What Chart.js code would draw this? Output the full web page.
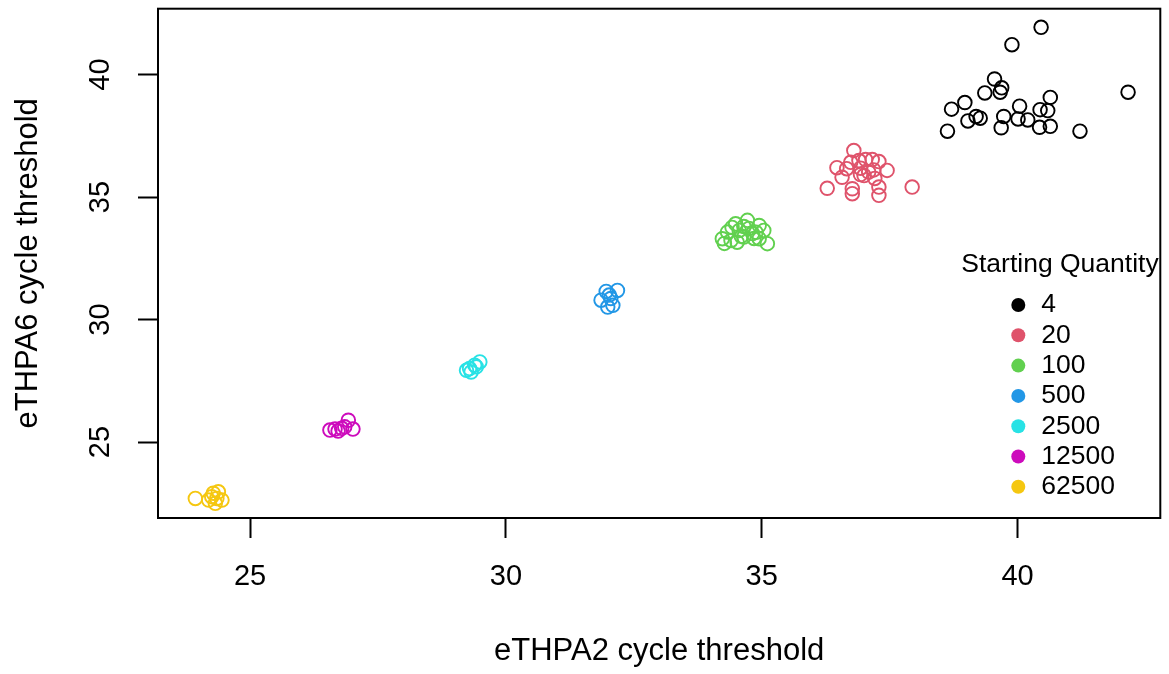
<!DOCTYPE html>
<html>
<head>
<meta charset="utf-8">
<script src="https://cdn.jsdelivr.net/npm/chart.js@4"></script>
<style>
  html, body { margin: 0; padding: 0; background: #ffffff; }
  #wrap { width: 1169px; height: 674px; }
</style>
</head>
<body>
<div id="wrap"><canvas id="chart" width="1169" height="674"></canvas></div>
<script>
// Starting quantity groups and their colours
const startingQuantities = ['4', '20', '100', '500', '2500', '12500', '62500'];
const groupColors = ['#000000', '#DF536B', '#61D04F', '#2297E6', '#28E2E5', '#CD0BBC', '#F5C710'];

// [eTHPA2 Ct, eTHPA6 Ct] pairs per starting quantity
const sq4 = [
  [40.46, 41.93], [39.89, 41.22], [42.16, 39.28], [39.55, 39.82], [39.69, 39.46],
  [39.66, 39.28], [39.36, 39.25], [40.64, 39.07], [38.97, 38.86], [38.71, 38.59],
  [40.04, 38.71], [40.44, 38.57], [40.59, 38.53], [39.19, 38.29], [39.27, 38.22],
  [39.03, 38.11], [39.73, 38.29], [40.01, 38.19], [40.20, 38.15], [39.68, 37.83],
  [40.43, 37.85], [40.64, 37.89], [38.63, 37.69], [41.22, 37.69]
];
const sq20 = [
  [36.80, 36.90], [36.47, 36.20], [36.28, 35.36], [37.94, 35.41], [36.74, 36.42],
  [37.03, 36.53], [37.16, 36.53], [37.29, 36.45], [37.45, 36.09], [36.57, 35.81],
  [36.77, 35.34], [36.77, 35.14], [37.29, 35.41], [37.29, 35.07], [37.00, 35.88],
  [36.93, 36.18], [37.09, 36.02], [36.66, 36.16], [36.90, 36.49], [37.19, 36.11],
  [37.21, 35.76], [36.93, 35.92]
];
const sq100 = [
  [34.23, 33.30], [34.72, 34.05], [35.11, 33.10], [34.95, 33.84], [34.49, 33.91],
  [34.33, 33.57], [34.65, 33.37], [34.82, 33.51], [34.52, 33.16], [34.95, 33.30],
  [34.40, 33.23], [34.56, 33.64], [34.75, 33.72], [34.89, 33.56], [34.42, 33.76],
  [34.65, 33.80], [35.04, 33.64], [34.60, 33.40], [34.27, 33.11], [34.85, 33.31]
];
const sq500 = [
  [31.96, 31.15], [32.18, 31.19], [31.86, 30.79], [32.05, 30.86], [32.09, 30.58],
  [31.99, 30.51], [32.02, 31.00]
];
const sq2500 = [
  [29.23, 27.93], [29.29, 28.00], [29.39, 28.14], [29.49, 28.27], [29.42, 28.07],
  [29.32, 27.86]
];
const sq12500 = [
  [26.56, 25.49], [26.66, 25.53], [26.79, 25.56], [26.92, 25.89], [27.01, 25.53],
  [26.85, 25.62], [26.72, 25.45]
];
const sq62500 = [
  [23.93, 22.70], [24.19, 22.63], [24.28, 22.91], [24.35, 22.70], [24.45, 22.63],
  [24.32, 22.50], [24.25, 22.77], [24.38, 22.97]
];
const groupValues = [sq4, sq20, sq100, sq500, sq2500, sq12500, sq62500];

// Axis ticks
const xTickValues = [25, 30, 35, 40];
const yTickValues = [25, 30, 35, 40];

const FONT = '"Liberation Sans", Arial, Helvetica, sans-serif';

const datasets = startingQuantities.map((label, i) => ({
  label: label,
  data: groupValues[i].map(p => ({ x: p[0], y: p[1] })),
  borderColor: groupColors[i],
  backgroundColor: 'rgba(0,0,0,0)',
  pointStyle: 'circle',
  pointRadius: 6.8,
  pointHoverRadius: 6.8,
  pointBorderWidth: 1.9,
  showLine: false
}));

// Closed frame around the plotting region
const frame = {
  id: 'frame',
  afterDatasetsDraw(chart) {
    const { ctx, chartArea: a } = chart;
    ctx.save();
    ctx.strokeStyle = '#000';
    ctx.lineWidth = 2;
    ctx.strokeRect(a.left, a.top, a.right - a.left, a.bottom - a.top);
    ctx.restore();
  }
};

// Key inside the lower right of the plot
const quantityKey = {
  id: 'quantityKey',
  afterDraw(chart) {
    const { ctx, chartArea: a } = chart;
    ctx.save();
    ctx.fillStyle = '#000';
    ctx.font = '26.5px ' + FONT;
    ctx.textAlign = 'left';
    ctx.textBaseline = 'middle';
    ctx.fillText('Starting Quantity', a.right - 199, a.bottom - 253);
    chart.data.datasets.forEach((ds, i) => {
      const y = a.bottom - 213 + i * 30.3;
      ctx.beginPath();
      ctx.arc(a.right - 142, y, 7, 0, Math.PI * 2);
      ctx.fillStyle = ds.borderColor;
      ctx.fill();
      ctx.fillStyle = '#000';
      ctx.fillText(ds.label, a.right - 119, y);
    });
    ctx.restore();
  }
};

new Chart(document.getElementById('chart'), {
  type: 'scatter',
  data: { datasets },
  options: {
    responsive: false,
    animation: false,
    devicePixelRatio: 1,
    events: [],
    layout: { padding: { top: 8, right: 7, left: 0, bottom: 0 } },
    plugins: { legend: { display: false }, tooltip: { enabled: false } },
    scales: {
      x: {
        type: 'linear',
        position: 'bottom',
        min: 23.2,
        max: 42.79,
        afterBuildTicks: s => { s.ticks = xTickValues.map(v => ({ value: v })); },
        afterFit: s => { s.height = 156; s.paddingLeft = 0; s.paddingRight = 0; },
        border: { display: false },
        grid: { drawOnChartArea: false, drawTicks: true, tickLength: 20, tickWidth: 2, tickColor: '#000' },
        ticks: { color: '#000', padding: 22, font: { size: 29, family: FONT }, maxRotation: 0, minRotation: 0 },
        title: { display: true, text: 'eTHPA2 cycle threshold', color: '#000', font: { size: 31, family: FONT }, padding: { top: 0, bottom: 4 } }
      },
      y: {
        type: 'linear',
        position: 'left',
        min: 21.9,
        max: 42.69,
        afterBuildTicks: s => { s.ticks = yTickValues.map(v => ({ value: v })); },
        afterFit: s => { s.width = 158; s.paddingTop = 0; s.paddingBottom = 0; },
        border: { display: false },
        grid: { drawOnChartArea: false, drawTicks: true, tickLength: 20, tickWidth: 2, tickColor: '#000' },
        ticks: { color: '#000', padding: 21, crossAlign: 'center', minRotation: 90, maxRotation: 90, font: { size: 29, family: FONT } },
        title: { display: true, text: 'eTHPA6 cycle threshold', color: '#000', font: { size: 31, family: FONT }, padding: { top: 10, bottom: 0 } }
      }
    }
  },
  plugins: [frame, quantityKey]
});
</script>
</body>
</html>
